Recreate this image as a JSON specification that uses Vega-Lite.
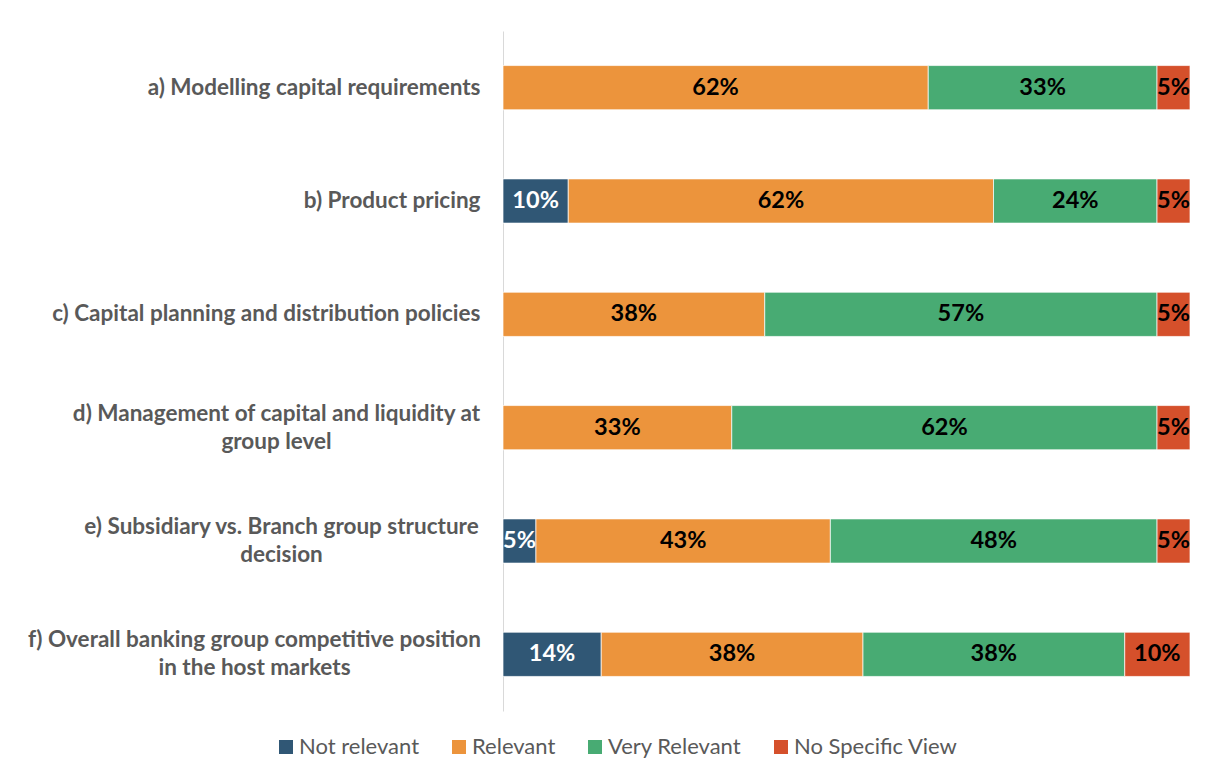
{
  "$schema": "https://vega.github.io/schema/vega-lite/v6.json",
  "width": 687,
  "height": 680,
  "autosize": {"type": "none"},
  "padding": {"left": 503, "top": 31, "right": 20, "bottom": 70},
  "background": "white",
  "config": {"view": {"stroke": null}, "font": "Lato"},
  "data": {
    "values": [
      {"item": "a) Modelling capital requirements", "response": "Relevant", "value": 0.619},
      {"item": "a) Modelling capital requirements", "response": "Very Relevant", "value": 0.333},
      {"item": "a) Modelling capital requirements", "response": "No Specific View", "value": 0.048},
      {"item": "b) Product pricing", "response": "Not relevant", "value": 0.095},
      {"item": "b) Product pricing", "response": "Relevant", "value": 0.619},
      {"item": "b) Product pricing", "response": "Very Relevant", "value": 0.238},
      {"item": "b) Product pricing", "response": "No Specific View", "value": 0.048},
      {"item": "c) Capital planning and distribution policies", "response": "Relevant", "value": 0.381},
      {"item": "c) Capital planning and distribution policies", "response": "Very Relevant", "value": 0.571},
      {"item": "c) Capital planning and distribution policies", "response": "No Specific View", "value": 0.048},
      {"item": "d) Management of capital and liquidity at group level", "response": "Relevant", "value": 0.333},
      {"item": "d) Management of capital and liquidity at group level", "response": "Very Relevant", "value": 0.619},
      {"item": "d) Management of capital and liquidity at group level", "response": "No Specific View", "value": 0.048},
      {"item": "e) Subsidiary vs. Branch group structure decision", "response": "Not relevant", "value": 0.048},
      {"item": "e) Subsidiary vs. Branch group structure decision", "response": "Relevant", "value": 0.429},
      {"item": "e) Subsidiary vs. Branch group structure decision", "response": "Very Relevant", "value": 0.476},
      {"item": "e) Subsidiary vs. Branch group structure decision", "response": "No Specific View", "value": 0.048},
      {"item": "f) Overall banking group competitive position in the host markets", "response": "Not relevant", "value": 0.143},
      {"item": "f) Overall banking group competitive position in the host markets", "response": "Relevant", "value": 0.381},
      {"item": "f) Overall banking group competitive position in the host markets", "response": "Very Relevant", "value": 0.381},
      {"item": "f) Overall banking group competitive position in the host markets", "response": "No Specific View", "value": 0.095}
    ]
  },
  "transform": [
    {"calculate": "indexof(['Not relevant','Relevant','Very Relevant','No Specific View'], datum.response)", "as": "ord"},
    {"stack": "value", "groupby": ["item"], "sort": [{"field": "ord"}], "offset": "normalize", "as": ["x0", "x1"]},
    {"calculate": "(datum.x0 + datum.x1) / 2", "as": "xm"}
  ],
  "encoding": {
    "y": {
      "field": "item",
      "type": "nominal",
      "sort": null,
      "scale": {"paddingInner": 0.61, "paddingOuter": 0.305},
      "axis": {
        "title": null,
        "domainColor": "#D9D9D9",
        "domainWidth": 1,
        "ticks": false,
        "grid": false,
        "labelFontSize": 22.5,
        "labelFontWeight": "bold",
        "labelColor": "#595959",
        "labelFont": "Lato",
        "labelLineHeight": 28,
        "labelLimit": 520,
        "labelExpr": "datum.value == 'd) Management of capital and liquidity at group level' ? ['d) Management of capital and liquidity at', 'group level'] : datum.value == 'e) Subsidiary vs. Branch group structure decision' ? ['e) Subsidiary vs. Branch group structure', 'decision'] : datum.value == 'f) Overall banking group competitive position in the host markets' ? ['f) Overall banking group competitive position', 'in the host markets'] : datum.value",
        "labelAlign": {
          "condition": {"test": "indexof(['d) Management of capital and liquidity at group level','e) Subsidiary vs. Branch group structure decision','f) Overall banking group competitive position in the host markets'], datum.value) >= 0", "value": "center"},
          "value": "right"
        },
        "labelOffset": {
          "condition": {"test": "indexof(['d) Management of capital and liquidity at group level','e) Subsidiary vs. Branch group structure decision','f) Overall banking group competitive position in the host markets'], datum.value) >= 0", "value": -14},
          "value": 0
        },
        "labelPadding": {
          "condition": [
            {"test": "datum.value == 'd) Management of capital and liquidity at group level'", "value": 227},
            {"test": "datum.value == 'e) Subsidiary vs. Branch group structure decision'", "value": 222},
            {"test": "datum.value == 'f) Overall banking group competitive position in the host markets'", "value": 249}
          ],
          "value": 23
        }
      }
    }
  },
  "layer": [
    {
      "mark": {"type": "bar", "stroke": "white", "strokeWidth": 0.7},
      "encoding": {
        "x": {"field": "x0", "type": "quantitative", "scale": {"domain": [0, 1], "nice": false, "zero": true}, "axis": null},
        "x2": {"field": "x1"},
        "color": {
          "field": "response",
          "type": "nominal",
          "scale": {
            "domain": ["Not relevant", "Relevant", "Very Relevant", "No Specific View"],
            "range": ["#305775", "#EC943C", "#48AB73", "#D5502B"]
          },
          "legend": {
            "title": null,
            "orient": "none",
            "legendX": -228,
            "legendY": 705,
            "direction": "horizontal",
            "symbolType": "square",
            "symbolSize": 196,
            "symbolStrokeWidth": 0,
            "labelFontSize": 22,
            "labelLimit": 300,
            "labelColor": "#595959",
            "labelFont": "Lato",
            "columnPadding": 28,
            "labelOffset": 2
          }
        }
      }
    },
    {
      "mark": {"type": "text", "fontWeight": "bold", "fontSize": 23.5, "font": "Lato"},
      "encoding": {
        "x": {"field": "xm", "type": "quantitative"},
        "text": {"field": "value", "type": "quantitative", "format": ".0%"},
        "color": {"condition": {"test": "datum.response == 'Not relevant'", "value": "white"}, "value": "black"}
      }
    }
  ]
}
